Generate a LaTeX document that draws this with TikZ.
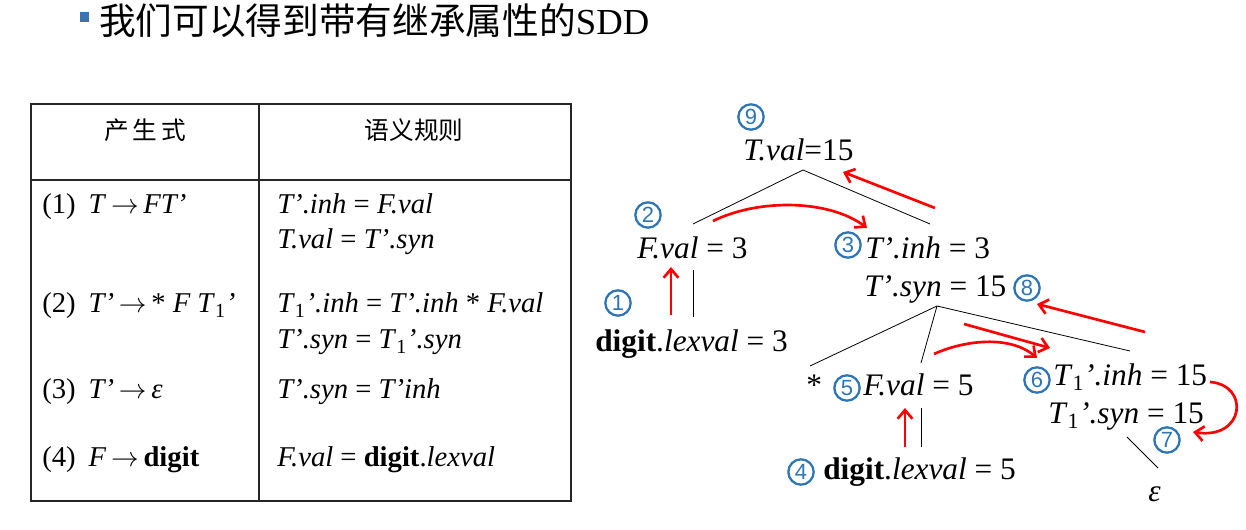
\documentclass[tikz,border=0pt]{standalone}
\usepackage{fontspec}
\setmainfont{Liberation Serif}
\newfontfamily\cjk{Noto Sans CJK SC}
\newfontfamily\numfont{Liberation Sans}
\usetikzlibrary{arrows.meta}
\definecolor{numblue}{RGB}{46,117,182}
\definecolor{bulletblue}{RGB}{65,113,180}
\definecolor{arrred}{RGB}{255,0,0}
\newcommand{\ra}{\ensuremath{\rightarrow}}
\begin{document}
\begin{tikzpicture}[x=0.75pt,y=-0.75pt,
  tx/.style={font=\fontsize{23.5}{28}\selectfont, inner sep=0pt, anchor=base west},
  tb/.style={font=\fontsize{21.5}{26}\selectfont, inner sep=0pt, anchor=base west},
  hd/.style={font=\cjk\fontsize{18.5}{22}\selectfont, inner sep=0pt},
  num/.style={circle, draw=numblue, line width=1.7pt, minimum size=19pt, inner sep=0pt,
              font=\numfont\fontsize{16.5}{17}\selectfont, text=numblue},
  branch/.style={line width=0.6pt},
  redarr/.style={draw=arrred, line width=2pt, -{Straight Barb[length=6.5pt,width=11pt]}},
  frame/.style={line width=1pt, draw=black!85}]
\path[use as bounding box] (0,0) rectangle (1246,530);

% title
\fill[bulletblue] (80,12) rectangle (89,22);
\node[inner sep=0pt, anchor=west, font=\fontsize{27.5}{32}\selectfont] (title) at (99,21) {{\cjk 我们可以得到带有继承属性的}SDD};

% table
\draw[frame] (31,104) rectangle (571,501);
\draw[frame] (259,104) -- (259,501);
\draw[frame] (31,180) -- (571,180);
\node[hd] (h1) at (145,130) {产\hspace{3pt}生\hspace{3pt}式};
\node[hd] (h2) at (414,130) {语义规则};

\node[tb] (p1) at (42,214) {(1)\hspace{0.45em}\textit{T}\,\ra\,\textit{FT’}};
\node[tb] (p2) at (42,313) {(2)\hspace{0.45em}\textit{T’}\,\ra\,* \textit{F T}\textsubscript{1}\textit{’}};
\node[tb] (p3) at (42,399) {(3)\hspace{0.45em}\textit{T’}\,\ra\,\textit{ε}};
\node[tb] (p4) at (42,467) {(4)\hspace{0.45em}\textit{F}\,\ra\,\textbf{digit}};

\node[tb] (r1a) at (277,214) {\textit{T’.inh} = \textit{F.val}};
\node[tb] (r1b) at (277,249) {\textit{T.val} = \textit{T’.syn}};
\node[tb] (r2a) at (277,313) {\textit{T}\textsubscript{1}\textit{’.inh} = \textit{T’.inh} * \textit{F.val}};
\node[tb] (r2b) at (277,349) {\textit{T’.syn} = \textit{T}\textsubscript{1}\textit{’.syn}};
\node[tb] (r3) at (277,399) {\textit{T’.syn} = \textit{T’inh}};
\node[tb] (r4) at (277,467) {\textit{F.val} = \textbf{digit}.\textit{lexval}};

% tree text
\node[tx] (Tval) at (743,161) {\textit{T.val}=15};
\node[tx] (Fval) at (637,259) {\textit{F.val} = 3};
\node[tx] (Tinh) at (865,259) {\textit{T’.inh} = 3};
\node[tx] (Tsyn) at (864,297) {\textit{T’.syn} = 15};
\node[tx] (dig1) at (595,352) {\textbf{digit}.\textit{lexval} = 3};
\node[tx] (star) at (806,396) {*};
\node[tx] (Fval5) at (863,396) {\textit{F.val} = 5};
\node[tx] (T1inh) at (1053,386) {\textit{T}\textsubscript{1}\textit{’.inh} = 15};
\node[tx] (T1syn) at (1048,424) {\textit{T}\textsubscript{1}\textit{’.syn} = 15};
\node[tx] (dig5) at (823,480) {\textbf{digit}.\textit{lexval} = 5};
\node[tx] (eps) at (1148,502) {\textit{ε}};

% circled numbers
\node[num] (n1) at (618,303) {1};
\node[num] (n2) at (648,215) {2};
\node[num] (n3) at (848,245) {3};
\node[num] (n4) at (801,472) {4};
\node[num] (n5) at (847,388) {5};
\node[num] (n6) at (1037,380) {6};
\node[num] (n7) at (1167,440) {7};
\node[num] (n8) at (1027,288) {8};
\node[num] (n9) at (751,117) {9};

% branch coordinates
\coordinate (a0) at (803,170);
\coordinate (aL) at (693,224);
\coordinate (aR) at (930,224);
\coordinate (f1t) at (693,270);
\coordinate (f1b) at (693,317);
\coordinate (b0) at (937,306);
\coordinate (bL) at (810,366);
\coordinate (bM) at (921,363);
\coordinate (bR) at (1130,351);
\coordinate (f5t) at (921,408);
\coordinate (f5b) at (921,447);
\coordinate (e1) at (1127,437);
\coordinate (e2) at (1158,468);

\draw[branch] (aL) -- (a0) -- (aR);
\draw[branch] (f1t) -- (f1b);
\draw[branch] (bL) -- (b0) -- (bR);
\draw[branch] (b0) -- (bM);
\draw[branch] (f5t) -- (f5b);
\draw[branch] (e1) -- (e2);

% red dependency arrows
\coordinate (r1s) at (671,315);
\coordinate (r1e) at (671,267);
\coordinate (r2s) at (713,221);
\coordinate (r2e) at (867,228);
\coordinate (r3s) at (935,208);
\coordinate (r3e) at (843,172);
\coordinate (r4s) at (905,447);
\coordinate (r4e) at (905,408);
\coordinate (r5s) at (934,354);
\coordinate (r5e) at (1037,358);
\coordinate (r6s) at (964,324);
\coordinate (r6e) at (1050,348);
\coordinate (r7s) at (1210,382);
\coordinate (r7e) at (1193,432);
\coordinate (r8s) at (1145,332);
\coordinate (r8e) at (1037,304);

\draw[redarr] (r1s) -- (r1e);
\draw[redarr] (r2s) .. controls (760,198) and (830,200) .. (r2e);
\draw[redarr] (r3s) -- (r3e);
\draw[redarr] (r4s) -- (r4e);
\draw[redarr] (r5s) .. controls (965,340) and (1010,335) .. (r5e);
\draw[redarr] (r6s) -- (r6e);
\draw[redarr] (r7s) .. controls (1250,385) and (1245,440) .. (r7e);
\draw[redarr] (r8s) -- (r8e);
\end{tikzpicture}
\end{document}
